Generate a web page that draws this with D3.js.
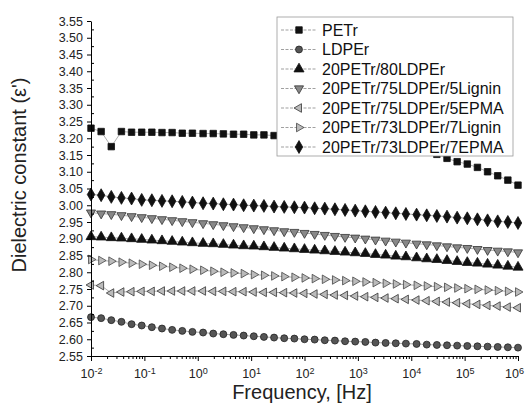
<!DOCTYPE html>
<html>
<head>
<meta charset="utf-8">
<script src="https://cdn.jsdelivr.net/npm/d3@7"></script>
<style>
  body { margin: 0; background: #fff; }
  svg { display: block; font-family: "Liberation Sans", Arial, sans-serif; }
</style>
</head>
<body>
<div id="chart"></div>
<script>
// frequency points, log10(Hz)
const logFreq = [-2, -1.81, -1.62, -1.43, -1.24, -1.05, -0.86, -0.67, -0.48, -0.29, -0.1,
  0.1, 0.29, 0.48, 0.67, 0.86, 1.05, 1.24, 1.43, 1.62, 1.81, 2.0, 2.19, 2.38, 2.57, 2.76,
  2.95, 3.14, 3.33, 3.52, 3.71, 3.9, 4.1, 4.29, 4.48, 4.67, 4.86, 5.05, 5.24, 5.43, 5.62, 5.81, 6.0];

const petr = [3.23, 3.22, 3.175, 3.22, 3.218, 3.218, 3.218, 3.217, 3.217, 3.215, 3.215,
  3.214, 3.214, 3.213, 3.212, 3.212, 3.21, 3.21, 3.208, 3.206, 3.205, 3.204, 3.202, 3.2,
  3.198, 3.196, 3.193, 3.19, 3.187, 3.183, 3.178, 3.172, 3.166, 3.16, 3.152, 3.14, 3.13,
  3.123, 3.113, 3.1, 3.088, 3.075, 3.06];
const ldper = [2.666, 2.663, 2.657, 2.652, 2.645, 2.641, 2.636, 2.632, 2.628, 2.625, 2.622,
  2.62, 2.617, 2.615, 2.613, 2.611, 2.609, 2.607, 2.605, 2.603, 2.602, 2.6, 2.599, 2.597,
  2.596, 2.594, 2.593, 2.592, 2.59, 2.589, 2.588, 2.587, 2.586, 2.584, 2.583, 2.582, 2.581,
  2.58, 2.579, 2.578, 2.577, 2.576, 2.575];
const blend80 = [2.906, 2.905, 2.903, 2.902, 2.9, 2.898, 2.896, 2.894, 2.892, 2.89, 2.888,
  2.886, 2.885, 2.883, 2.881, 2.879, 2.878, 2.876, 2.874, 2.872, 2.87, 2.868, 2.866, 2.864,
  2.862, 2.86, 2.858, 2.856, 2.853, 2.851, 2.848, 2.846, 2.843, 2.84, 2.838, 2.835, 2.832,
  2.829, 2.827, 2.824, 2.821, 2.818, 2.815];
const lignin5 = [2.978, 2.975, 2.973, 2.97, 2.967, 2.964, 2.961, 2.958, 2.955, 2.952, 2.949,
  2.946, 2.943, 2.94, 2.937, 2.934, 2.931, 2.928, 2.925, 2.922, 2.92, 2.917, 2.914, 2.911,
  2.908, 2.905, 2.903, 2.9, 2.897, 2.894, 2.891, 2.888, 2.885, 2.883, 2.88, 2.877, 2.874,
  2.872, 2.869, 2.866, 2.864, 2.862, 2.859];
const epma5 = [2.762, 2.76, 2.738, 2.741, 2.742, 2.743, 2.743, 2.744, 2.744, 2.744, 2.744,
  2.744, 2.743, 2.743, 2.742, 2.742, 2.741, 2.74, 2.74, 2.739, 2.738, 2.737, 2.735, 2.734,
  2.732, 2.731, 2.729, 2.727, 2.725, 2.723, 2.721, 2.719, 2.717, 2.715, 2.713, 2.711, 2.709,
  2.706, 2.704, 2.701, 2.699, 2.696, 2.694];
const lignin7 = [2.838, 2.835, 2.833, 2.83, 2.827, 2.824, 2.821, 2.818, 2.815, 2.812, 2.809,
  2.806, 2.803, 2.8, 2.798, 2.796, 2.793, 2.791, 2.789, 2.787, 2.785, 2.783, 2.781, 2.779,
  2.777, 2.775, 2.773, 2.771, 2.769, 2.767, 2.765, 2.763, 2.761, 2.759, 2.757, 2.755, 2.753,
  2.751, 2.749, 2.747, 2.745, 2.743, 2.741];
const epma7 = [3.032, 3.03, 3.025, 3.022, 3.02, 3.016, 3.015, 3.013, 3.012, 3.01, 3.008,
  3.006, 3.005, 3.003, 3.002, 3.0, 2.999, 2.998, 2.996, 2.995, 2.994, 2.993, 2.991, 2.99,
  2.988, 2.986, 2.984, 2.982, 2.98, 2.978, 2.976, 2.974, 2.972, 2.97, 2.968, 2.966, 2.963,
  2.961, 2.958, 2.955, 2.952, 2.95, 2.947];

const seriesNames = ['PETr', 'LDPEr', '20PETr/80LDPEr', '20PETr/75LDPEr/5Lignin',
  '20PETr/75LDPEr/5EPMA', '20PETr/73LDPEr/7Lignin', '20PETr/73LDPEr/7EPMA'];
const seriesValues = [petr, ldper, blend80, lignin5, epma5, lignin7, epma7];

const yTicks = [2.55, 2.60, 2.65, 2.70, 2.75, 2.80, 2.85, 2.90, 2.95, 3.00, 3.05,
  3.10, 3.15, 3.20, 3.25, 3.30, 3.35, 3.40, 3.45, 3.50, 3.55];
const xTickExps = [-2, -1, 0, 1, 2, 3, 4, 5, 6];

// marker style per series
const markers = [
  { type: d3.symbolSquare, size: 42, rot: 0, fill: '#111', stroke: '#111' },
  { type: d3.symbolCircle, size: 38, rot: 0, fill: '#555', stroke: '#222' },
  { type: d3.symbolTriangle, size: 44, rot: 0, fill: '#111', stroke: '#111' },
  { type: d3.symbolTriangle, size: 36, rot: 180, fill: '#888', stroke: '#333' },
  { type: d3.symbolTriangle, size: 32, rot: -90, fill: '#bbb', stroke: '#333' },
  { type: d3.symbolTriangle, size: 32, rot: 90, fill: '#bbb', stroke: '#444' },
  { type: d3.symbolDiamond, size: 48, rot: 0, fill: '#111', stroke: '#111' }
];

const width = 525, height = 409;

const x = d3.scaleLog().domain([1e-2, 1e6]).range([91, 518]);
const y = d3.scaleLinear().domain([2.55, 3.55]).range([356, 21]);

const svg = d3.select('#chart').append('svg')
  .attr('width', width)
  .attr('height', height);

svg.append('rect').attr('width', width).attr('height', height).attr('fill', '#fff');

const line = d3.line()
  .x((d, i) => x(Math.pow(10, logFreq[i])))
  .y(d => y(d));

// data series
seriesValues.forEach((vals, s) => {
  const m = markers[s];
  const g = svg.append('g').attr('class', 'series');
  g.append('path')
    .attr('d', line(vals))
    .attr('fill', 'none')
    .attr('stroke', '#777')
    .attr('stroke-width', 0.6);
  g.selectAll('path.pt')
    .data(vals)
    .enter()
    .append('path')
    .attr('class', 'pt')
    .attr('d', d3.symbol().type(m.type).size(m.size))
    .attr('transform', (d, i) => 'translate(' + x(Math.pow(10, logFreq[i])) + ',' + y(d) + ') rotate(' + m.rot + ')')
    .attr('fill', m.fill)
    .attr('stroke', m.stroke)
    .attr('stroke-width', 0.8);
});

// legend
const legend = svg.append('g').attr('class', 'legend');
legend.append('rect')
  .attr('x', 277).attr('y', 17)
  .attr('width', 236).attr('height', 139)
  .attr('fill', '#fff')
  .attr('stroke', '#999')
  .attr('stroke-width', 0.8);

seriesNames.forEach((name, s) => {
  const m = markers[s];
  const ly = 30 + s * 19.5;
  legend.append('line')
    .attr('x1', 281).attr('x2', 317)
    .attr('y1', ly).attr('y2', ly)
    .attr('stroke', '#777')
    .attr('stroke-width', 0.7)
    .attr('stroke-dasharray', '3,1.5');
  legend.append('path')
    .attr('d', d3.symbol().type(m.type).size(m.size)())
    .attr('transform', 'translate(299,' + ly + ') rotate(' + m.rot + ')')
    .attr('fill', m.fill)
    .attr('stroke', m.stroke)
    .attr('stroke-width', 0.8);
  legend.append('text')
    .attr('x', 322).attr('y', ly)
    .attr('dy', '0.36em')
    .attr('font-size', '16px')
    .attr('fill', '#111')
    .text(name);
});

// y axis
const gy = svg.append('g')
  .attr('transform', 'translate(91,0)')
  .call(d3.axisLeft(y).tickValues(yTicks).tickFormat(d3.format('.2f')).tickSize(4).tickSizeOuter(0));
gy.selectAll('.tick text').attr('font-size', '12.5px').attr('fill', '#222').attr('x', -8);

// minor y ticks, inside
const yMinor = yTicks.slice(0, -1).map(v => v + 0.025);
svg.append('g')
  .attr('transform', 'translate(91,0)')
  .call(d3.axisRight(y).tickValues(yMinor).tickFormat('').tickSize(3).tickSizeOuter(0))
  .select('.domain').remove();

// x axis
const gx = svg.append('g')
  .attr('transform', 'translate(0,356)')
  .call(d3.axisBottom(x).tickValues(xTickExps.map(e => Math.pow(10, e))).tickSize(5).tickSizeOuter(0));
gx.selectAll('.tick text')
  .attr('font-size', '12.5px')
  .attr('fill', '#222')
  .attr('y', 13)
  .each(function(d) {
    const t = d3.select(this);
    const e = Math.round(Math.log10(d));
    t.text('10');
    t.append('tspan').attr('dy', '-0.45em').attr('font-size', '9px').text(e);
    if (e === 6) t.attr('x', -4);
  });

// minor x ticks
const xMinor = [];
xTickExps.slice(0, -1).forEach(e => {
  [2, 3, 4, 5, 6, 7, 8, 9].forEach(k => xMinor.push(k * Math.pow(10, e)));
});
svg.append('g')
  .attr('transform', 'translate(0,356)')
  .call(d3.axisBottom(x).tickValues(xMinor).tickFormat('').tickSize(3).tickSizeOuter(0))
  .select('.domain').remove();

// axis titles
svg.append('text')
  .attr('x', 302).attr('y', 399)
  .attr('text-anchor', 'middle')
  .attr('font-size', '20px')
  .attr('fill', '#222')
  .text('Frequency, [Hz]');

svg.append('text')
  .attr('transform', 'translate(26,175) rotate(-90)')
  .attr('text-anchor', 'middle')
  .attr('font-size', '20px')
  .attr('fill', '#222')
  .text("Dielectric constant (ε')");
</script>
</body>
</html>
